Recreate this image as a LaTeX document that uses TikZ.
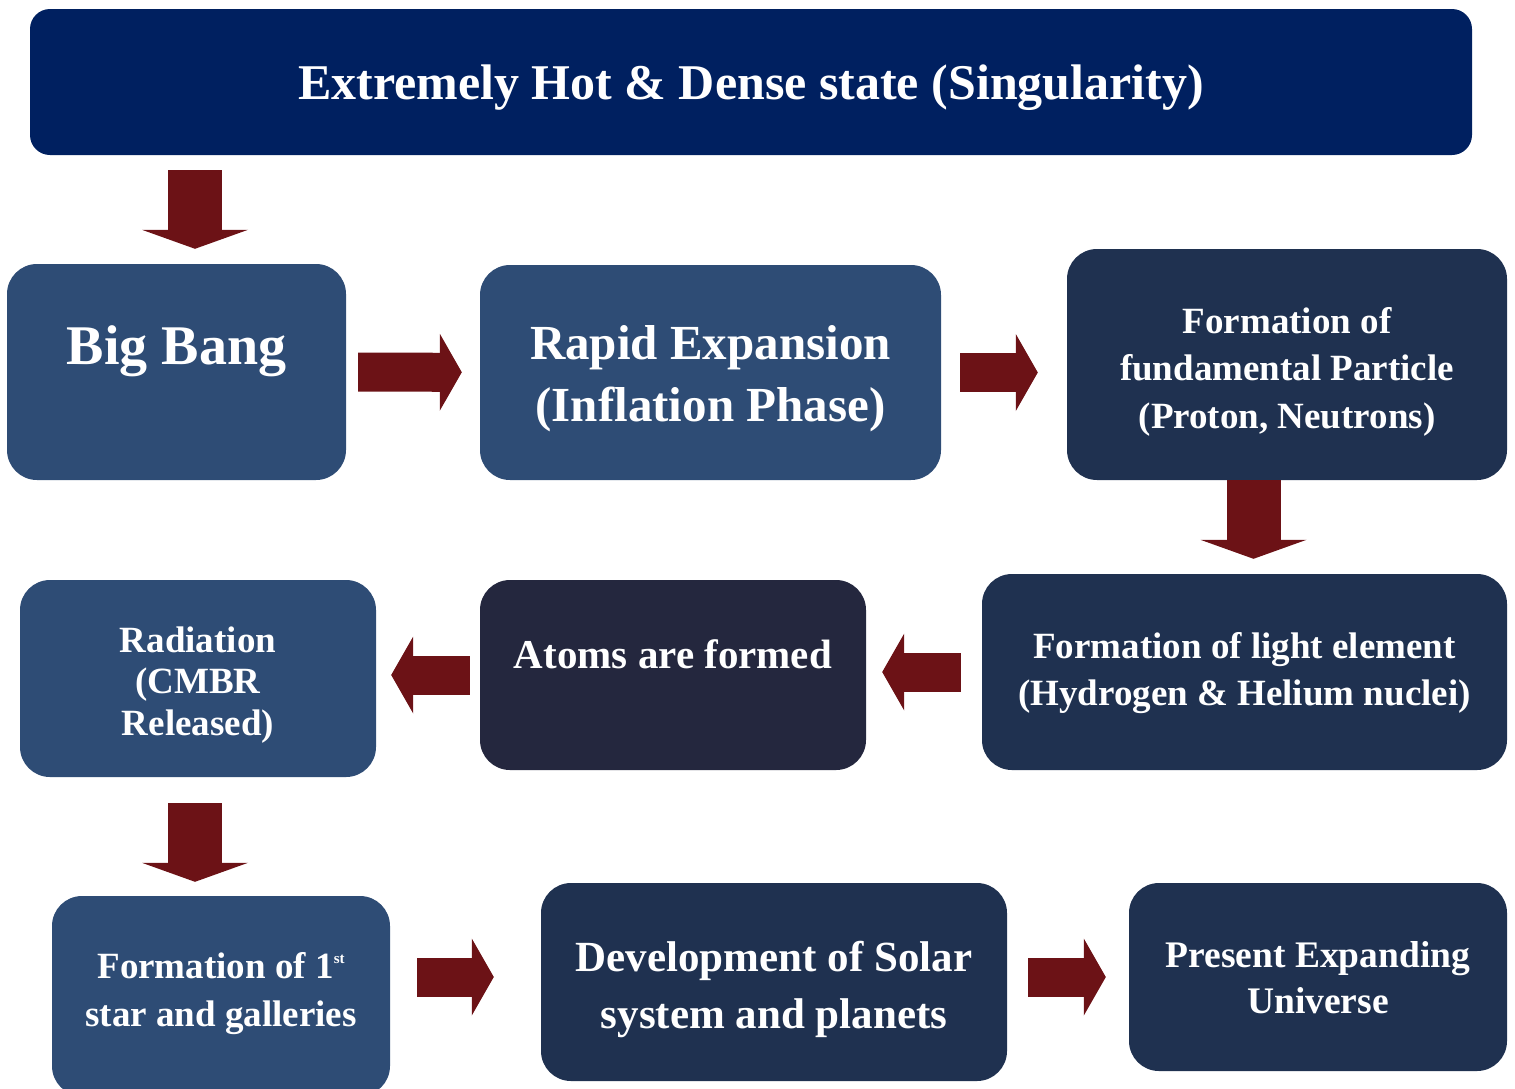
\documentclass[tikz,border=0pt]{standalone}
\usepackage{fontspec}
\setmainfont{Liberation Serif}
\usetikzlibrary{arrows.meta,calc}
\definecolor{navy}{RGB}{0,32,96}
\definecolor{steel}{RGB}{46,76,117}
\definecolor{slate}{RGB}{31,49,80}
\definecolor{ink}{RGB}{36,39,62}
\definecolor{maroon}{RGB}{108,18,22}
\tikzset{
  stage/.style     = {shape=rectangle, rounded corners=30pt, inner sep=0pt,
                      align=center, text=white, font=\bfseries, text depth=0pt},
  early/.style     = {stage, fill=steel},
  late/.style      = {stage, fill=slate},
  sidearrow/.style = {draw=maroon, line width=39pt,
                      -{Triangle[length=22pt 0 0, width=77pt 0 0, line width=0pt 0 0]}},
  downarrow/.style = {draw=maroon, line width=54pt,
                      -{Triangle[length=19pt 0 0, width=106pt 0 0, line width=0pt 0 0]}},
}
\newcommand{\fsz}[2]{\fontsize{#1}{#2}\selectfont}

\begin{document}
\begin{tikzpicture}[x=1pt, y=-1pt]
  \useasboundingbox (0,0) rectangle (1515,1088);

  \node [stage, fill=navy, rounded corners=20pt, minimum width=1442pt, minimum height=146pt,
         font=\bfseries\fsz{50}{60}, text height=34pt] (top) at (751,82)
        {Extremely Hot \& Dense state (Singularity)};

  % first row
  \node [early, minimum width=339pt, minimum height=216pt, font=\bfseries\fsz{56}{66},
         text height=0pt, text depth=16pt] (bigbang) at (176.5,372) {Big Bang};
  \node [early, minimum width=461pt, minimum height=215pt, font=\bfseries\fsz{49}{62},
         text height=97pt] (rapid) at (710.5,372.5) {Rapid Expansion\\(Inflation Phase)};
  \node [late, minimum width=440pt, minimum height=231pt, font=\bfseries\fsz{37}{47.5},
         text height=127pt] (fund) at (1287,364.5)
        {Formation of\\fundamental Particle\\(Proton, Neutrons)};

  % second row
  \node [late, minimum width=525pt, minimum height=196pt, font=\bfseries\fsz{37}{47},
         text height=66pt] (light) at (1244.5,672)
        {Formation of light element\\(Hydrogen \& Helium nuclei)};
  \node [stage, fill=ink, minimum width=386pt, minimum height=190pt, font=\bfseries\fsz{41}{50},
         text height=0pt, text depth=14pt] (atoms) at (673,675) {Atoms are formed};
  \node [early, minimum width=356pt, minimum height=197pt, font=\bfseries\fsz{37}{41.5},
         text height=113pt] (radiation) at (198,678.5) {Radiation\\(CMBR\\Released)};

  % third row
  \node [early, minimum width=338pt, minimum height=200pt, font=\bfseries\fsz{37}{48},
         text height=60pt] (form1st) at (221,996)
        {Formation of 1\raisebox{15pt}{\fsz{15}{15}st}\\star and galleries};
  \node [late, minimum width=466pt, minimum height=198pt, font=\bfseries\fsz{43}{57},
         text height=92pt] (dev) at (774,982) {Development of Solar\\system and planets};
  \node [late, minimum width=378pt, minimum height=188pt, font=\bfseries\fsz{37.5}{46},
         text height=72pt] (present) at (1318,977) {Present Expanding\\Universe};

  % block arrows
  \draw [downarrow, shorten <=15pt, shorten >=15pt]
        ($(bigbang.north |- top.south)+(18.5,0)$) -- ($(bigbang.north)+(18.5,0)$);
  \draw [sidearrow, shorten <=12pt, shorten >=18pt] (bigbang) -- (rapid);
  \draw [sidearrow, shorten <=19pt, shorten >=29pt] (rapid) -- (rapid -| fund.west);
  \draw [downarrow, shorten >=15pt]
        ($(light.north |- fund.south)+(9,0)$) -- ($(light.north)+(9,0)$);
  \draw [sidearrow, shorten <=21pt, shorten >=16pt] (light) -- (light -| atoms.east);
  \draw [sidearrow, shorten <=10pt, shorten >=15pt] (atoms) -- (atoms -| radiation.east);
  \draw [downarrow, shorten <=26pt, shorten >=14pt]
        ($(form1st.north |- radiation.south)+(-26,0)$) -- ($(form1st.north)+(-26,0)$);
  \draw [sidearrow, shorten <=27pt, shorten >=47pt]
        ($(form1st.east |- dev.west)+(0,-5)$) -- ($(dev.west)+(0,-5)$);
  \draw [sidearrow, shorten <=21pt, shorten >=23pt] (dev.east |- present.west) -- (present.west);
\end{tikzpicture}
\end{document}
